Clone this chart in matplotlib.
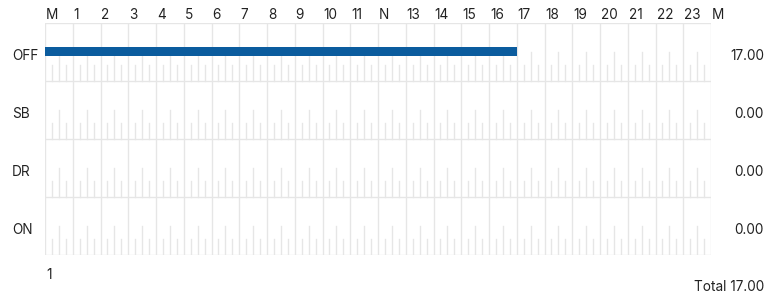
import matplotlib
matplotlib.use("Agg")
import matplotlib.pyplot as plt
import numpy as np

plt.rcParams['font.family'] = ['Inter', 'DejaVu Sans']

statuses = ["OFF", "SB", "DR", "ON"]
hour_labels = ["M"] + [str(h) for h in range(1, 12)] + ["N"] + [str(h) for h in range(13, 24)] + ["M"]
# segments: (status, start hour, end hour)
seg_status = ["OFF"]
seg_start = [0.0]
seg_end = [17.0]
totals = [17.00, 0.00, 0.00, 0.00]
total_all = 17.00
day_label = "1"

W, H = 768, 297
fig = plt.figure(figsize=(W / 100, H / 100), dpi=100)
fig.patch.set_facecolor("white")

left, right, top, bottom = 45, 711, 23, 255
ax = fig.add_axes([left / W, 1 - bottom / H, (right - left) / W, (bottom - top) / H])
ax.set_xlim(0, 24)
ax.set_ylim(len(statuses), 0)
ax.axis("off")

grid_c = "#e6e6e6"
lw = 1.0
# row borders
for i in range(len(statuses) + 1):
    ax.plot([0, 24], [i, i], color=grid_c, lw=lw, zorder=1, solid_capstyle="butt")
# hour lines
for h in range(25):
    ax.plot([h, h], [0, len(statuses)], color=grid_c, lw=lw, zorder=1)
# quarter ticks
for i in range(len(statuses)):
    for h in range(24):
        for q, frac in ((0.25, 0.27), (0.5, 0.5), (0.75, 0.27)):
            ax.plot([h + q, h + q], [i + 1, i + 1 - frac], color=grid_c, lw=lw, zorder=1)

# bars
for s, a, b in zip(seg_status, seg_start, seg_end):
    r = statuses.index(s)
    ax.barh(r + 0.49, b - a, left=a, height=0.15, color="#0b5c9e", zorder=3)

tc = "#222222"
fs = 9.8
# hour labels (left-aligned on lines)
for h, lab in enumerate(hour_labels):
    x = left + h * (right - left) / 24 + 1
    fig.text(x / W, 1 - 15 / H, lab, ha="left", va="center", fontsize=fs, color=tc)

# status labels and totals
row_h = (bottom - top) / len(statuses)
for i, (s, t) in enumerate(zip(statuses, totals)):
    y = top + row_h * (i + 0.5) + 3.5
    fig.text(12 / W, 1 - y / H, s, ha="left", va="center", fontsize=fs, color=tc)
    fig.text(764 / W, 1 - y / H, f"{t:.2f}", ha="right", va="center", fontsize=fs, color=tc)

fig.text(46 / W, 1 - 275 / H, day_label, ha="left", va="center", fontsize=fs, color=tc)
fig.text(764 / W, 1 - 287 / H, f"Total {total_all:.2f}", ha="right", va="center", fontsize=fs, color=tc)

fig.savefig("out.png", dpi=100, facecolor="white")
